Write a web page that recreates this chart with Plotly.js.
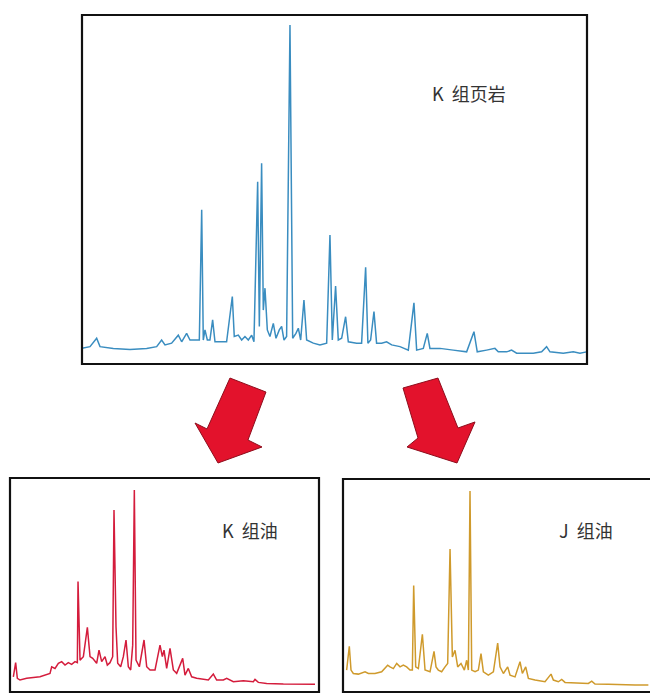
<!DOCTYPE html>
<html>
<head>
<meta charset="utf-8">
<script src="https://cdn.plot.ly/plotly-3.0.1.min.js"></script>
<style>html,body{margin:0;padding:0;background:#fff;}#chart{width:650px;height:693px;}</style>
</head>
<body>
<div id="chart"></div>
<script>
// ---- Data: retention time (min) and relative abundance (%) ----
const shaleTime = [0,0.95,1.74,2.14,3.72,5.70,7.68,8.87,9.46,9.86,10.65,11.44,11.84,12.43,12.83,13.42,13.94,14.22,14.41,14.61,14.89,15.20,15.52,15.80,17.18,17.86,18.09,18.57,18.97,19.36,19.76,20.16,20.43,20.87,21.07,21.34,21.54,21.74,22.02,22.33,22.73,23.05,23.44,23.72,24.00,24.31,24.71,25.03,25.42,25.70,25.98,26.37,26.69,27.48,28.27,29.07,29.46,29.74,30.13,30.45,30.85,31.32,31.64,32.63,33.22,33.70,33.97,34.29,34.69,35.00,35.60,36.19,36.79,37.78,38.77,39.44,39.76,40.55,41.02,41.34,42.53,44.11,45.70,46.57,46.96,48.07,49.06,49.46,50.45,51.04,51.64,53.62,54.61,55.20,55.60,57.18,58.37,59.16,59.95];
const shaleAbund = [4.2,4.7,7.1,4.7,4.2,3.9,4.2,4.7,6.6,5.2,5.7,8.0,6.1,8.5,6.6,6.6,6.6,44.0,6.6,9.5,6.6,6.6,12.4,6.1,6.1,19.1,7.6,8.0,6.6,7.6,6.6,8.0,6.1,52.1,10.5,57.4,15.2,21.5,9.5,7.6,11.4,7.1,9.5,10.5,6.6,7.6,97.1,7.1,8.5,10.0,6.6,18.1,6.6,5.7,5.2,5.7,36.8,6.6,22.1,6.6,7.1,13.3,6.1,5.7,5.7,27.5,5.7,6.6,14.8,5.7,5.7,6.1,5.2,4.7,3.7,17.3,3.7,4.2,8.5,4.2,4.2,3.7,3.2,9.0,3.2,3.7,4.2,3.2,3.2,3.7,2.8,2.8,3.2,4.7,3.2,2.8,3.2,2.8,3.2];

const kOilTime = [0.65,1.10,1.43,1.95,3.25,5.84,7.79,8.12,8.77,9.42,10.07,10.72,11.36,12.01,12.66,13.12,13.25,13.64,14.29,15.07,15.59,16.11,16.88,17.34,17.86,18.51,18.96,19.48,20.00,20.26,20.65,20.98,21.56,22.08,22.60,23.05,23.51,23.90,24.22,24.55,25.20,26.11,26.63,27.28,28.25,29.22,29.68,30.00,30.52,31.17,31.82,32.47,33.64,34.09,34.74,35.39,36.37,37.67,38.64,39.61,40.26,41.56,42.21,43.51,45.46,47.41,47.73,48.38,50.00,53.25,56.50,59.42];
const kOilAbund = [7.1,13.7,6.4,5.6,6.4,7.1,8.7,11.8,11.0,13.4,14.2,12.6,13.7,12.9,14.2,13.7,51.6,14.9,16.5,30.2,16.5,15.7,13.4,19.6,14.2,16.5,12.6,13.7,16.5,85.0,30.5,13.4,11.8,16.5,24.3,11.8,10.3,21.9,94.4,14.9,11.8,24.3,11.8,10.3,10.3,21.9,16.5,19.6,11.0,20.4,10.3,8.7,15.7,7.9,11.0,7.1,6.4,5.9,5.6,8.4,5.6,5.6,6.4,4.8,5.3,4.8,5.9,4.5,4.0,3.7,3.6,3.6];

const jOilTime = [0.71,1.23,1.56,2.01,2.99,4.29,4.94,6.23,7.53,8.18,8.70,9.16,9.81,10.46,11.11,11.75,12.40,13.05,13.51,13.77,14.16,14.68,15.46,15.98,16.95,17.73,18.12,18.57,19.22,19.87,20.39,20.85,21.04,21.30,21.82,22.34,22.99,23.64,24.09,24.42,24.74,25.07,25.72,26.36,26.88,27.34,28.31,29.29,30.13,30.59,31.24,32.08,32.54,33.51,34.48,34.94,35.59,36.11,37.41,39.35,40.52,40.98,41.95,42.60,43.25,45.20,47.80,48.45,49.09,51.69,54.29,56.89,59.48];
const jOilAbund = [10.3,21.5,10.3,8.7,8.4,9.5,8.7,8.7,9.5,11.0,12.6,11.8,11.0,13.4,11.8,12.6,11.8,10.3,10.3,50.0,11.8,11.0,27.1,10.3,9.5,19.1,11.8,10.3,9.5,11.8,13.4,67.1,42.2,16.5,19.6,11.8,13.4,10.3,14.9,10.3,94.4,10.3,9.5,10.3,18.0,9.5,7.9,9.5,23.0,11.8,8.7,11.8,7.9,7.1,14.2,8.7,11.8,6.4,5.6,4.8,8.4,5.6,4.8,5.9,4.5,4.3,4.0,5.1,3.7,3.6,3.3,3.3,3.3];

const panelLabels = ["K\u00a0\u00a0组页岩", "K\u00a0\u00a0组油", "J\u00a0\u00a0组油"];

// ---- Layout helpers (page pixels -> paper fractions) ----
const W = 650, H = 693;
const px = x => x / W;
const py = y => 1 - y / H;
function poly(pts) {
  return 'M ' + pts.map(p => px(p[0]).toFixed(4) + ' ' + py(p[1]).toFixed(4)).join(' L ') + ' Z';
}

const traces = [
  {x: shaleTime, y: shaleAbund, xaxis: 'x', yaxis: 'y', type: 'scatter', mode: 'lines',
   line: {color: '#3a8dc0', width: 1.5}, hoverinfo: 'skip'},
  {x: kOilTime, y: kOilAbund, xaxis: 'x2', yaxis: 'y2', type: 'scatter', mode: 'lines',
   line: {color: '#d41c3c', width: 1.5}, hoverinfo: 'skip'},
  {x: jOilTime, y: jOilAbund, xaxis: 'x3', yaxis: 'y3', type: 'scatter', mode: 'lines',
   line: {color: '#cf9a2c', width: 1.5}, hoverinfo: 'skip'}
];

const hidden = {visible: false, showgrid: false, zeroline: false, fixedrange: true};

const labelFont = {family: 'Noto Sans CJK SC', size: 18, color: '#333333'};

const layout = {
  width: W, height: H,
  margin: {l: 0, r: 0, t: 0, b: 0},
  paper_bgcolor: '#ffffff', plot_bgcolor: 'rgba(0,0,0,0)',
  showlegend: false,
  xaxis:  Object.assign({}, hidden, {domain: [px(82), px(587)], range: [0, 60], anchor: 'y'}),
  yaxis:  Object.assign({}, hidden, {domain: [py(363), py(15)], range: [0, 100], anchor: 'x'}),
  xaxis2: Object.assign({}, hidden, {domain: [px(10), px(318)], range: [0, 60], anchor: 'y2'}),
  yaxis2: Object.assign({}, hidden, {domain: [py(692), py(478)], range: [0, 100], anchor: 'x2'}),
  xaxis3: Object.assign({}, hidden, {domain: [px(343), 1], range: [0, 59.8], anchor: 'y3'}),
  yaxis3: Object.assign({}, hidden, {domain: [py(692), py(479)], range: [0, 100], anchor: 'x3'}),
  shapes: [
    {type: 'rect', xref: 'paper', yref: 'paper', x0: px(82), x1: px(587), y0: py(364), y1: py(15),
     line: {color: '#111', width: 2.2}, fillcolor: 'rgba(0,0,0,0)', layer: 'above'},
    {type: 'rect', xref: 'paper', yref: 'paper', x0: px(10), x1: px(319), y0: py(692), y1: py(478),
     line: {color: '#111', width: 2.2}, fillcolor: 'rgba(0,0,0,0)', layer: 'above'},
    {type: 'rect', xref: 'paper', yref: 'paper', x0: px(343), x1: px(664), y0: py(692), y1: py(479),
     line: {color: '#111', width: 2.2}, fillcolor: 'rgba(0,0,0,0)', layer: 'above'},
    {type: 'path', xref: 'paper', yref: 'paper',
     path: poly([[230,378],[266,392],[248,440],[262,447],[218,463],[195,423],[207,429]]),
     fillcolor: '#e3122c', line: {color: '#8e0d1c', width: 1}},
    {type: 'path', xref: 'paper', yref: 'paper',
     path: poly([[403,388],[438,378],[458,428],[475,422],[457,463],[407,447],[418,438]]),
     fillcolor: '#e3122c', line: {color: '#8e0d1c', width: 1}}
  ],
  annotations: [
    {text: panelLabels[0], xref: 'paper', yref: 'paper', x: px(469), y: py(93), xanchor: 'center', yanchor: 'middle',
     showarrow: false, font: labelFont},
    {text: panelLabels[1], xref: 'paper', yref: 'paper', x: px(250), y: py(530), xanchor: 'center', yanchor: 'middle',
     showarrow: false, font: labelFont},
    {text: panelLabels[2], xref: 'paper', yref: 'paper', x: px(586), y: py(530), xanchor: 'center', yanchor: 'middle',
     showarrow: false, font: labelFont}
  ]
};

Plotly.newPlot('chart', traces, layout, {displayModeBar: false, staticPlot: true});
</script>
</body>
</html>
